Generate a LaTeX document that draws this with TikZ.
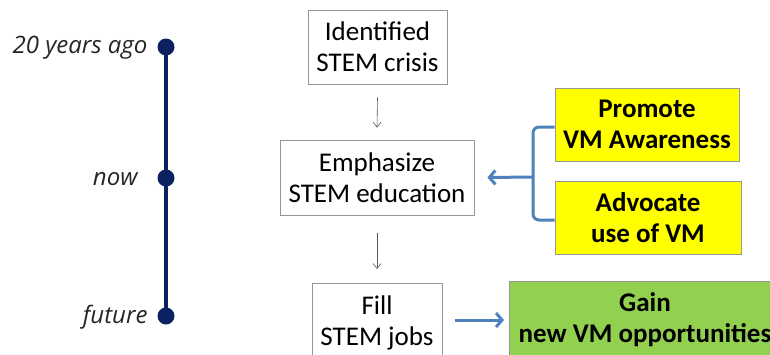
\documentclass[tikz,border=0pt]{standalone}
\usepackage{fontspec}
\setmainfont{Carlito}
\newfontfamily\whenfont{Open Sans}
\usetikzlibrary{arrows.meta}
\definecolor{navy}{RGB}{12,33,96}
\definecolor{linkblue}{RGB}{79,129,189}
\definecolor{boxgray}{RGB}{150,150,150}
\definecolor{hiyellow}{RGB}{255,255,0}
\definecolor{higreen}{RGB}{146,208,80}
\begin{document}
\begin{tikzpicture}[x=1pt,y=-1pt,
  stepbox/.style={draw=boxgray,line width=0.8pt,fill=white,align=center,inner sep=0pt,
    font=\fontsize{27}{31}\selectfont},
  goalbox/.style={draw=boxgray,line width=0.8pt,align=center,inner sep=0pt,
    font=\bfseries\fontsize{27}{31}\selectfont},
  flow/.style={draw=black!65,line width=0.6pt,-{Straight Barb[length=5pt,width=8pt]}},
  link/.style={draw=linkblue,line width=3pt,-{Straight Barb[length=6pt,width=14pt,line width=3pt]}},
  tick/.style={circle,fill=navy,inner sep=0pt,minimum size=17pt},
  when/.style={anchor=east,font=\whenfont\itshape\fontsize{24}{28}\selectfont,text=black!85}]
\useasboundingbox (0,0) rectangle (770,354);

% timeline
\node[tick] (t1) at (166,47) {};
\node[tick] (t2) at (166,178) {};
\node[tick] (t3) at (166,316) {};
\draw[navy,line width=3.2pt] (t1.center) -- (t3.center);
\node[when] (l1) at (151,48) {20 years ago};
\node[when] (l2) at (141,179) {now};
\node[when] (l3) at (151,317) {future};

% main chain
\node[stepbox,minimum width=139pt,minimum height=74pt] (b1) at (377.5,47) {Identified\\STEM crisis};
\node[stepbox,minimum width=194pt,minimum height=75pt] (b2) at (377,177.5) {Emphasize\\STEM education};
\node[stepbox,minimum width=130pt,minimum height=80pt,anchor=north] (b3) at (377,283) {Fill\\STEM jobs};
\draw[flow] ([yshift=-13pt]b1.south) -- ([yshift=12pt]b2.north);
\draw[flow] ([yshift=-18pt]b2.south) -- ([yshift=14pt]b3.north);

% supporting actions
\node[goalbox,fill=hiyellow,minimum width=184pt,minimum height=73pt] (p1) at (647,124.5) {Promote\\VM Awareness};
\node[goalbox,fill=hiyellow,minimum width=186pt,minimum height=73pt] (p2) at (648,217.5) {Advocate\\use of VM};
\coordinate (jn) at (533,177);
\draw[linkblue,line width=3pt,rounded corners=6pt] (p1.west |- 0,127) -| (jn) |- (p2.west |- 0,220);
\draw[link] (jn) -- ([xshift=13pt]b2.east);

% outcome
\node[goalbox,fill=higreen,minimum width=270pt,minimum height=80pt,anchor=north west] (g) at (509,281) {};
\node[font=\bfseries\fontsize{27}{31}\selectfont,align=center] (gt) at (645,320) {Gain\\new VM opportunities};
\coordinate (gs) at (455,320);
\draw[link] (gs) -- ([xshift=-5pt]g.west |- gs);
\end{tikzpicture}
\end{document}
